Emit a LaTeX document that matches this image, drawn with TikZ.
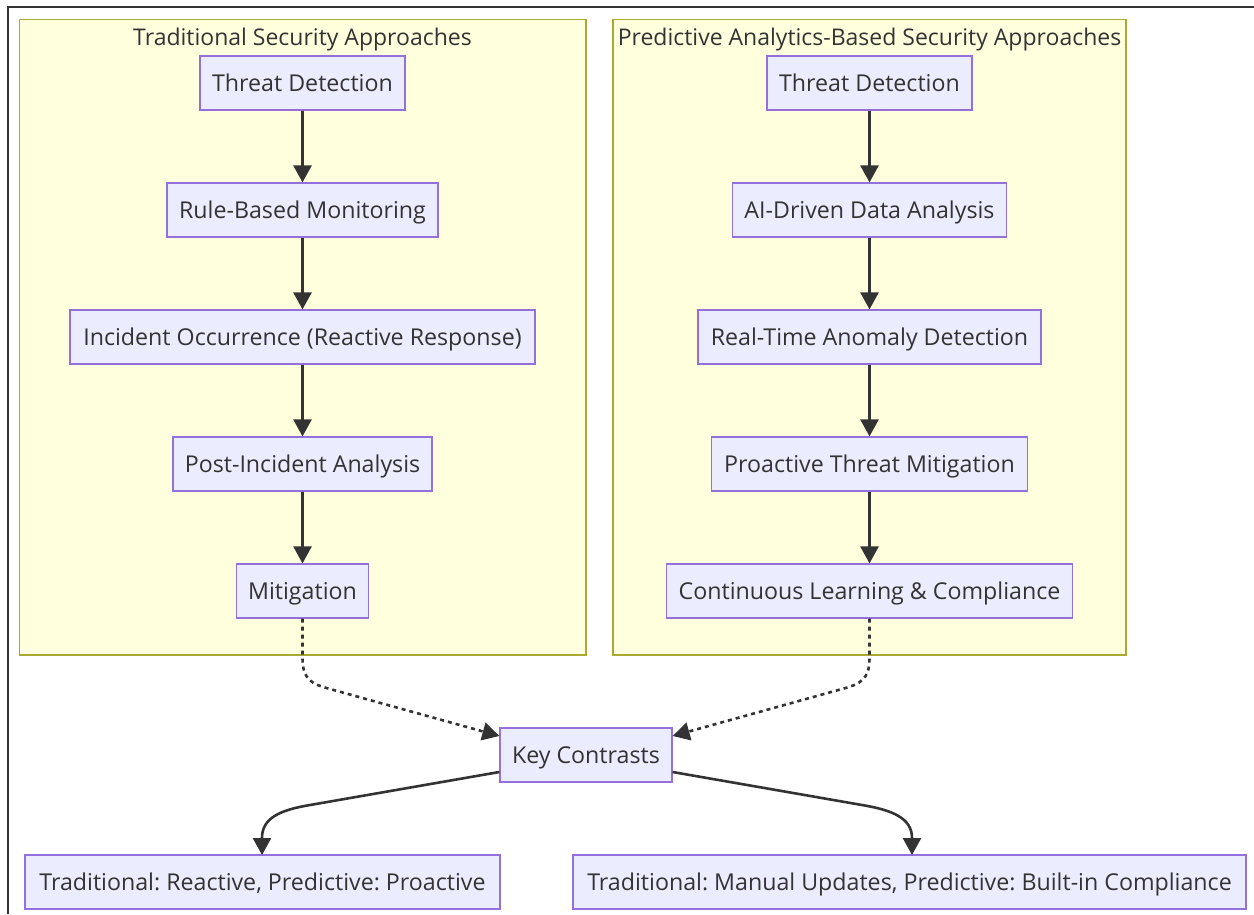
\documentclass[tikz,border=0pt]{standalone}
\usepackage{fontspec}
\setmainfont{Open Sans}
\usetikzlibrary{arrows.meta}
\frenchspacing
\definecolor{nodefill}{HTML}{ECECFF}
\definecolor{nodeline}{HTML}{9370DB}
\definecolor{clfill}{HTML}{FFFFDE}
\definecolor{clline}{HTML}{AAAA33}
\definecolor{txt}{HTML}{333333}
\tikzset{
  box/.style={draw=nodeline, fill=nodefill, line width=1.2pt, minimum height=54pt,
    inner xsep=2pt, inner ysep=0pt, text=txt, text height=16.3pt, text depth=0pt,
    font=\fontsize{23.2}{28}\selectfont},
  cluster/.style={draw=clline, fill=clfill, line width=1.3pt},
  cltitle/.style={text=txt, anchor=base, inner sep=0pt, font=\fontsize{23}{28}\selectfont},
  flow/.style={draw=txt, line width=2.6pt, -{Triangle[length=17pt,width=18pt]}},
  dotflow/.style={draw=txt, line width=2.6pt, dash pattern=on 4pt off 4pt, -{Triangle[length=17pt,width=18pt]}},
}
\begin{document}
\begin{tikzpicture}[x=1pt,y=-1pt]
\useasboundingbox (0,0) rectangle (1254,914);
% outer frame
\draw[line width=1.2pt, draw=txt] (8,914) -- (8,7) -- (1254,7);
% clusters
\draw[cluster] (19.5,19.5) rectangle (586,655);
\draw[cluster] (613,19.5) rectangle (1126,655);
\node[cltitle] (ct1) at (302.5,45) {Traditional Security Approaches};
\node[cltitle] (ct2) at (869.5,45) {Predictive Analytics-Based Security Approaches};
% left nodes
\node[box, minimum width=205pt] (a1) at (302.5,83) {Threat Detection};
\node[box, minimum width=271pt] (a2) at (302.5,210) {Rule-Based Monitoring};
\node[box, minimum width=465pt] (a3) at (302.5,337) {Incident Occurrence (Reactive Response)};
\node[box, minimum width=259pt] (a4) at (302.5,464) {Post-Incident Analysis};
\node[box, minimum width=132pt] (a5) at (302.5,591) {Mitigation};
% right nodes
\node[box, minimum width=205pt] (b1) at (869.5,83) {Threat Detection};
\node[box, minimum width=274pt] (b2) at (869.5,210) {AI-Driven Data Analysis};
\node[box, minimum width=343pt] (b3) at (869.5,337) {Real-Time Anomaly Detection};
\node[box, minimum width=316pt] (b4) at (869.5,464) {Proactive Threat Mitigation};
\node[box, minimum width=406pt] (b5) at (869.5,591) {Continuous Learning \& Compliance};
% key contrasts
\node[box, minimum width=172pt] (k) at (586,755) {Key Contrasts};
\node[box, minimum width=475pt] (c1) at (262.5,882) {Traditional: Reactive, Predictive: Proactive};
\node[box, minimum width=673pt] (c2) at (909.5,882) {Traditional: Manual Updates, Predictive: Built-in Compliance};
% straight flows
\draw[flow] (a1.south) -- (a2.north);
\draw[flow] (a2.south) -- (a3.north);
\draw[flow] (a3.south) -- (a4.north);
\draw[flow] (a4.south) -- (a5.north);
\draw[flow] (b1.south) -- (b2.north);
\draw[flow] (b2.south) -- (b3.north);
\draw[flow] (b3.south) -- (b4.north);
\draw[flow] (b4.south) -- (b5.north);
% dotted flows
\coordinate (kl) at ([yshift=19pt]k.west);
\coordinate (kr) at ([yshift=19pt]k.east);
\draw[dotflow] (a5.south) -- (302.5,658) .. controls (302.5,680) and (312,684) .. (330,689) -- (kl);
\draw[dotflow] (b5.south) -- (869.5,658) .. controls (869.5,680) and (860,684) .. (842,689) -- (kr);
% contrast flows
\coordinate (kl2) at ([yshift=-17pt]k.west);
\coordinate (kr2) at ([yshift=-17pt]k.east);
\coordinate (c1t) at (262,855);
\coordinate (c2t) at (912,855);
\draw[flow] (kl2) -- (310,805) .. controls (280,810) and (262,818) .. (262,838) -- (c1t);
\draw[flow] (kr2) -- (862,805) .. controls (892,810) and (912,818) .. (912,838) -- (c2t);
\end{tikzpicture}
\end{document}
